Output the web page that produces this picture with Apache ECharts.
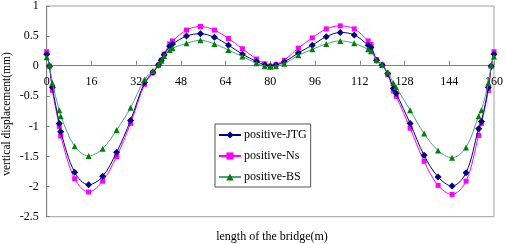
<!DOCTYPE html>
<html><head><meta charset="utf-8">
<script src="https://cdn.jsdelivr.net/npm/echarts@6/dist/echarts.min.js"></script>
<style>html,body{margin:0;padding:0;background:#fff}#c{width:506px;height:244px}</style>
</head><body><div id="c"></div>
<script>
var xPos = [0,1,2,4.5,5,10,15,20,25,30,35,38,40,41,42,44,45,50,55,60,65,70,75,78,80,82,85,90,95,100,105,110,115,116,118,120,122,124,125,130,135,140,145,150,154.5,155.5,158,159,160];
var jtg = [0.2,0,-0.35,-0.95,-1.09,-1.76,-1.97,-1.83,-1.43,-0.9,-0.27,-0.1,0.02,0.1,0.19,0.33,0.37,0.5,0.54,0.48,0.35,0.2,0.08,0.02,0,0.02,0.07,0.22,0.35,0.49,0.56,0.52,0.35,0.31,0.1,0.02,-0.12,-0.37,-0.45,-0.95,-1.48,-1.84,-1.99,-1.77,-1.04,-0.92,-0.35,0,0.2];
var ns = [0.24,0,-0.4,-1.0,-1.16,-1.87,-2.09,-1.91,-1.5,-0.95,-0.3,-0.11,0.02,0.1,0.2,0.37,0.42,0.6,0.66,0.6,0.46,0.29,0.12,0.04,0,0.03,0.1,0.3,0.47,0.62,0.67,0.62,0.42,0.36,0.11,0.02,-0.14,-0.41,-0.5,-1.03,-1.58,-1.98,-2.13,-1.91,-1.15,-0.95,-0.4,0,0.24];
var bs = [0.15,0.02,-0.28,-0.73,-0.83,-1.33,-1.49,-1.37,-1.06,-0.69,-0.22,-0.08,0.03,0.09,0.17,0.27,0.3,0.38,0.43,0.37,0.27,0.16,0.05,0,-0.01,0,0.04,0.18,0.28,0.37,0.42,0.38,0.28,0.25,0.1,0.02,-0.1,-0.28,-0.35,-0.73,-1.12,-1.4,-1.52,-1.35,-0.83,-0.73,-0.28,0.02,0.16];
var seriesNames = ['positive-JTG','positive-Ns','positive-BS'];
var xTitle = 'length of the bridge(m)';
var yTitle = 'vertical displacement(mm)';

function pairs(v){ return xPos.map(function(x,i){ return [x, v[i]]; }); }
var FONT = '"Liberation Serif","Times New Roman",serif';
var GT = 4, GB = 27.3, H = 244;
var yMin = -2.5, yMax = 1;
var plotH = H - GT - GB;
var zeroOffset = -plotH * (0 - yMin) / (yMax - yMin);
var chart = echarts.init(document.getElementById('c'), null, {renderer:'canvas'});
chart.setOption({
  animation:false,
  grid:{left:46.7, right:9.3, top:GT, bottom:GB, show:true, borderColor:'#a0a0a0', borderWidth:1, backgroundColor:'transparent'},
  legend:{
    orient:'vertical', left:215, top:124,
    backgroundColor:'#fff', borderColor:'#555', borderWidth:1,
    padding:[5,4,4,3], itemGap:9, itemWidth:22, itemHeight:9,
    textStyle:{fontFamily:FONT, fontSize:12, color:'#000', padding:[0,0,0,-2]},
    data:seriesNames
  },
  xAxis:{
    type:'value', min:0, max:160, interval:16, position:'bottom', offset:zeroOffset,
    axisLine:{onZero:false, lineStyle:{color:'#808080', width:1}},
    axisTick:{inside:true, length:4, lineStyle:{color:'#808080'}},
    axisLabel:{color:'#000', fontFamily:FONT, fontSize:12, margin:11},
    splitLine:{show:false}
  },
  yAxis:{
    type:'value', min:yMin, max:yMax, interval:0.5,
    axisLine:{show:true, lineStyle:{color:'#808080', width:1}},
    axisTick:{show:true, inside:true, length:3, lineStyle:{color:'#808080'}},
    axisLabel:{color:'#000', fontFamily:FONT, fontSize:12, margin:8},
    splitLine:{show:false}
  },
  graphic:[
    {type:'text', x:7, y:114, rotation:Math.PI/2, style:{text:yTitle, fontFamily:FONT, fontSize:11.5, fill:'#000', align:'center', verticalAlign:'middle'}},
    {type:'text', x:272, y:237, style:{text:xTitle, fontFamily:FONT, fontSize:12, fill:'#000', align:'center', verticalAlign:'middle'}}
  ],
  series:[
    {name:seriesNames[0], type:'line', data:pairs(jtg), smooth:0.35, symbol:'diamond', symbolSize:7,
     lineStyle:{color:'#000080', width:1}, itemStyle:{color:'#000080'}, z:3},
    {name:seriesNames[1], type:'line', data:pairs(ns), smooth:0.35, symbol:'rect', symbolSize:5,
     lineStyle:{color:'#ff00ff', width:1}, itemStyle:{color:'#ff00ff'}, z:2},
    {name:seriesNames[2], type:'line', data:pairs(bs), smooth:0.35, symbol:'triangle', symbolSize:6,
     lineStyle:{color:'#4aa08a', width:1}, itemStyle:{color:'#008000'}, z:4}
  ]
});
</script></body></html>
